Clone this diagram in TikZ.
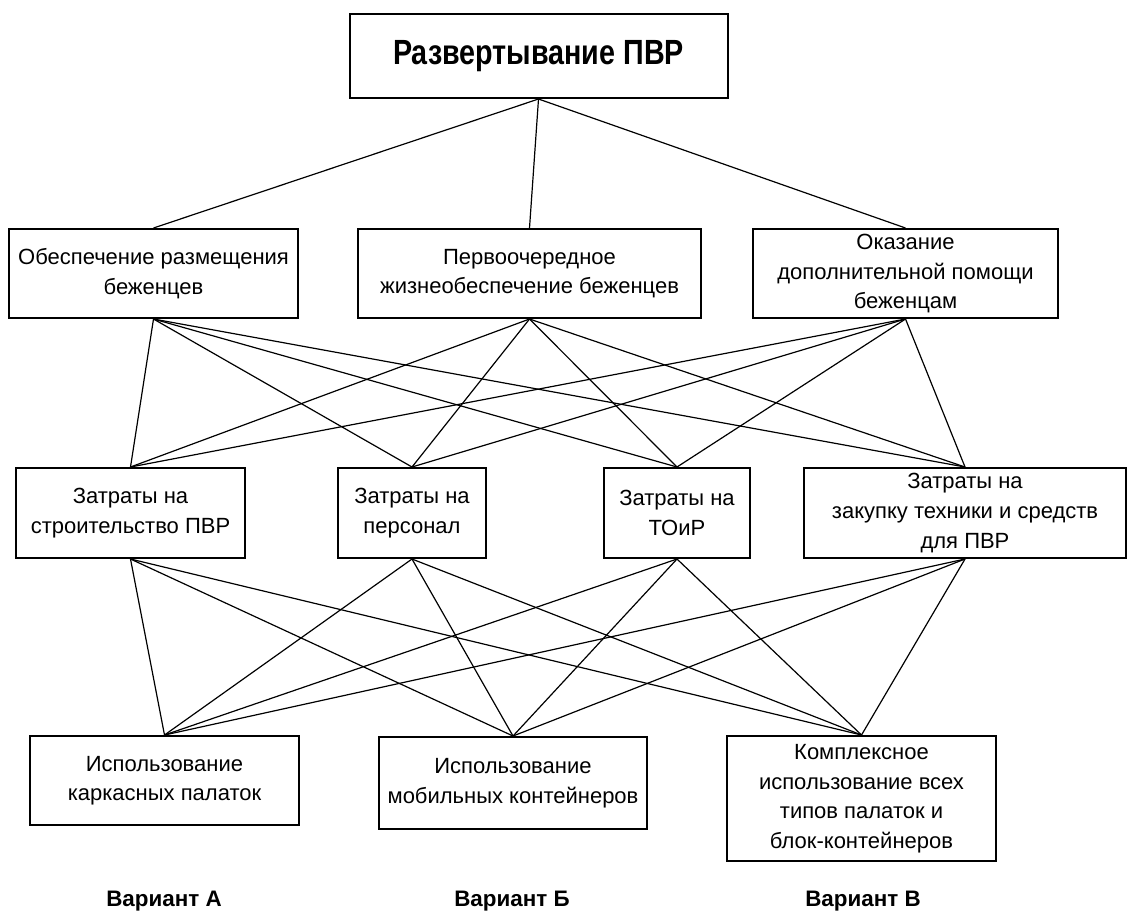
\documentclass[tikz,border=0pt]{standalone}
\usepackage{fontspec}
\setmainfont{Liberation Sans}
\newfontfamily\narrowfont{Liberation Sans}[FakeStretch=0.82]
\usepackage{tikz}

\begin{document}
\begin{tikzpicture}[x=0.5pt, y=-0.5pt, line width=0.6pt,
    box/.style={draw, line width=1pt, align=center, inner sep=0pt,
        font=\fontsize{11}{14.8}\selectfont},
    variant/.style={font=\fontsize{11.2}{13}\selectfont\bfseries}]
    \useasboundingbox (0,0) rectangle (1128,912);

    % Top
    \node[box, minimum width=189pt, minimum height=42pt,
        font=\fontsize{17.5}{20}\narrowfont\bfseries] (pvr) at (538.5,56) {Развертывание ПВР};

    % Goals
    \node[box, minimum width=144.5pt, minimum height=44.5pt] (razm) at (153.5,273.5)
        {Обеспечение размещения\\беженцев};
    \node[box, minimum width=171.5pt, minimum height=44.5pt] (zhizn) at (529.5,273.5)
        {Первоочередное\\жизнеобеспечение беженцев};
    \node[box, minimum width=152.5pt, minimum height=44.5pt] (pomosh) at (905.5,273.5)
        {Оказание\\дополнительной помощи\\беженцам};

    % Costs
    \node[box, minimum width=114.5pt, minimum height=45pt] (stroi) at (130.5,513)
        {Затраты на\\строительство ПВР};
    \node[box, minimum width=74pt, minimum height=45pt] (pers) at (412,513)
        {Затраты на\\персонал};
    \node[box, minimum width=73pt, minimum height=45pt] (toir) at (677,513)
        {Затраты на\\ТОиР};
    \node[box, minimum width=161pt, minimum height=45pt] (zakup) at (965,513)
        {Затраты на\\закупку техники и средств\\для ПВР};

    % Alternatives
    \node[box, minimum width=134.5pt, minimum height=44.5pt] (karkas) at (164.5,780.5)
        {Использование\\каркасных палаток};
    \node[box, minimum width=134pt, minimum height=46pt] (mobil) at (513,783)
        {Использование\\мобильных контейнеров};
    \node[box, minimum width=134.5pt, minimum height=62.5pt] (kompl) at (861.5,798.5)
        {Комплексное\\использование всех\\типов палаток и\\блок-контейнеров};

    \node[variant] (varA) at (164,901) {Вариант А};
    \node[variant] (varB) at (512,901) {Вариант Б};
    \node[variant] (varC) at (863,901) {Вариант В};

    % Links
    \foreach \g in {razm,zhizn,pomosh}
        \draw (pvr.south) -- (\g.north);
    \foreach \g in {razm,zhizn,pomosh}
        \foreach \c in {stroi,pers,toir,zakup}
            \draw (\g.south) -- (\c.north);
    \foreach \c in {stroi,pers,toir,zakup}
        \foreach \v in {karkas,mobil,kompl}
            \draw (\c.south) -- (\v.north);
\end{tikzpicture}
\end{document}
